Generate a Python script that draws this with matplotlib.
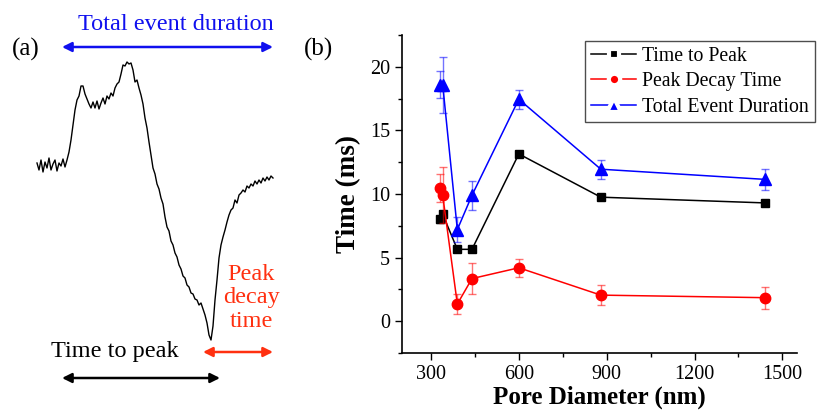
import numpy as np
import matplotlib
matplotlib.use("Agg")
import matplotlib.pyplot as plt
from matplotlib.lines import Line2D
from matplotlib.ticker import MultipleLocator

plt.rcParams['font.family'] = ['Liberation Serif', 'DejaVu Serif']

# panel (b) data
pore_nm = [330, 340, 390, 440, 600, 880, 1440]
time_to_peak = [8.0, 8.4, 5.65, 5.65, 13.15, 9.75, 9.3]
time_to_peak_err = [0.3, 0.3, 0.2, 0.2, 0.2, 0.2, 0.2]
decay_time = [10.5, 9.9, 1.35, 3.35, 4.2, 2.05, 1.85]
decay_time_err = [1.1, 2.2, 0.8, 1.25, 0.72, 0.78, 0.87]
total_duration = [18.6, 18.6, 7.2, 9.9, 17.45, 11.95, 11.15]
total_duration_err = [1.05, 2.2, 0.97, 1.15, 0.75, 0.75, 0.8]

# panel (a) schematic trace (sample index vs. level, downward = larger)
trace_t = np.arange(37, 275, 2)
trace_level = [
    163, 170, 160, 172, 162, 168, 158, 170, 164, 160, 171, 163, 166, 159, 167, 160,
    152, 140, 125, 110, 100, 96, 86, 86, 94, 99, 104, 108, 102, 108, 101, 109,
    103, 98, 104, 96, 99, 93, 96, 88, 84, 82, 74, 65, 66, 62, 64, 63, 70, 82,
    80, 88, 95, 104,
    118, 128, 142, 155, 168, 174, 184, 189, 198, 204, 217, 227, 231, 241, 245,
    253, 257, 265, 269, 276, 278, 285, 287, 293, 294, 299, 300, 305, 303, 309,
    315, 323, 335, 340, 326, 300, 280, 258, 245, 237, 230, 222, 215, 210, 208,
    200, 203, 195, 193, 190, 192, 186, 188, 184, 186, 181, 184, 180, 183, 178,
    181, 177, 180, 176, 178,
]

fig = plt.figure(figsize=(8.22, 4.12), dpi=100)

# ---- panel (a)
axa = fig.add_axes([0, 0, 300 / 822, 1])
axa.set_xlim(0, 300)
axa.set_ylim(412, 0)
axa.axis('off')
axa.plot(trace_t, trace_level, color='black', lw=1.0)

arrow = dict(arrowstyle='<|-|>', mutation_scale=14, lw=1.8, shrinkA=0, shrinkB=0)
axa.annotate('', xy=(62, 47), xytext=(273, 47), arrowprops=dict(arrow, color='#1010ee'))
axa.annotate('', xy=(62, 378), xytext=(220, 378), arrowprops=dict(arrow, color='black'))
axa.annotate('', xy=(203, 352), xytext=(273, 352), arrowprops=dict(arrow, color='#ff3010'))

axa.text(26, 49, '(a)', fontsize=18, ha='center', va='center')
axa.text(176, 24, 'Total event duration', fontsize=17.5, color='#1010ee',
         ha='center', va='center')
axa.text(115, 352, 'Time to peak', fontsize=17.5, ha='center', va='center')
axa.text(251, 298, 'Peak\ndecay\ntime', fontsize=17.5, color='#ff3010',
         ha='center', va='center', linespacing=1.15)

# ---- panel (b)
ax = fig.add_axes([401.7 / 822, 59 / 412, (797 - 401.7) / 822, (377 - 59) / 412])
series = [
    (time_to_peak, time_to_peak_err, 'black', 's', 5.5, 7.5, 'Time to Peak'),
    (decay_time, decay_time_err, '#ff0000', 'o', 7.5, 8.2, 'Peak Decay Time'),
    (total_duration, total_duration_err, '#0000ff', '^', 8, 10.5, 'Total Event Duration'),
]
handles = []
for vals, errs, col, mk, ms, lms, lab in series:
    ax.errorbar(pore_nm, vals, yerr=errs, fmt='none', ecolor=col, alpha=0.55,
                elinewidth=1.0, capsize=3, capthick=1.0)
    ax.plot(pore_nm, vals, color=col, marker=mk, ms=ms, lw=1.1)
    handles.append(Line2D([], [], color=col, marker=mk, ms=lms, lw=1.1,
                          markerfacecolor=col, markeredgecolor='white',
                          markeredgewidth=3.0, label=lab))

ax.set_xlim(200, 1550)
ax.set_ylim(-2.5, 22.5)
ax.xaxis.set_major_locator(MultipleLocator(300))
ax.xaxis.set_minor_locator(MultipleLocator(150))
ax.yaxis.set_major_locator(MultipleLocator(5))
ax.yaxis.set_minor_locator(MultipleLocator(2.5))
ax.tick_params(which='both', direction='out', labelsize=14.5, width=1.0)
ax.tick_params(which='major', length=5)
ax.tick_params(which='minor', length=3)
for s in ('top', 'right'):
    ax.spines[s].set_visible(False)
for s in ('left', 'bottom'):
    ax.spines[s].set_linewidth(1.2)

ax.set_xlabel('Pore Diameter (nm)', fontsize=18, fontweight='bold', labelpad=1)
ax.set_ylabel('Time (ms)', fontsize=19.5, fontweight='bold', labelpad=6)

leg = ax.legend(handles=handles, loc='upper left', bbox_to_anchor=(585 / 822, 1 - 41 / 412),
                bbox_transform=fig.transFigure, borderaxespad=0, fontsize=14.2,
                fancybox=False, framealpha=1, edgecolor='0.3', handlelength=2.3,
                borderpad=0.3, labelspacing=0.32, handletextpad=0.3)
leg.get_frame().set_linewidth(1.0)

fig.text(318 / 822, 1 - 49 / 412, '(b)', fontsize=18, ha='center', va='center')

fig.savefig('out.png', dpi=100)
